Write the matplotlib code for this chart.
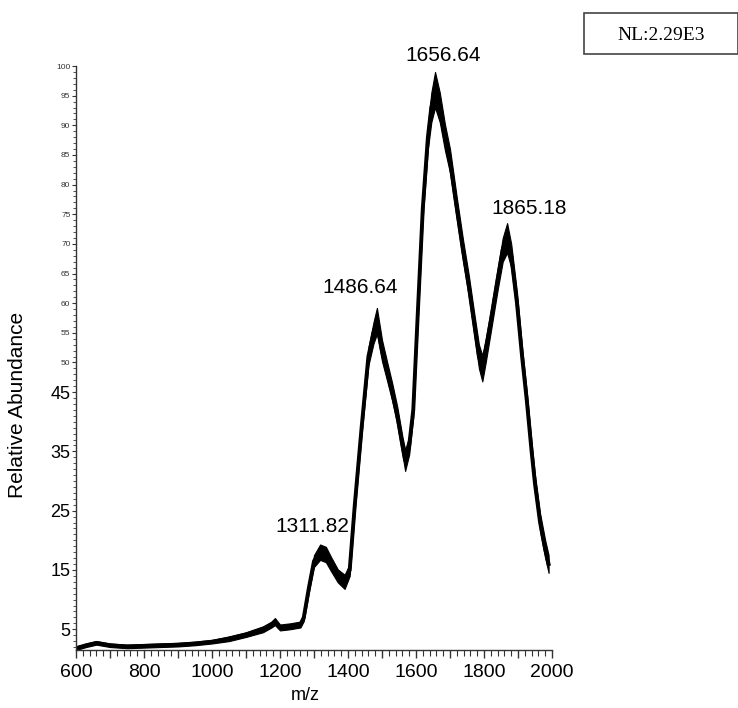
import matplotlib
matplotlib.use("Agg")
import matplotlib.pyplot as plt
from matplotlib.ticker import MultipleLocator, FixedLocator
from matplotlib.patches import Rectangle

plt.rcParams['font.family'] = ['Liberation Sans', 'DejaVu Sans']

# m/z positions and relative abundance (trace centre), with noise half-width
mz = [600, 630, 660, 700, 750, 800, 850, 900, 950, 1000, 1050, 1100, 1150, 1175,
      1185, 1200, 1230, 1260, 1270, 1285, 1300, 1318, 1335, 1350, 1370, 1390,
      1405, 1420, 1440, 1460, 1475, 1485, 1500, 1515, 1530, 1545, 1560, 1568,
      1580, 1592, 1605, 1620, 1635, 1645, 1656, 1670, 1685, 1700, 1720, 1738,
      1755, 1770, 1785, 1795, 1805, 1820, 1840, 1855, 1868, 1880, 1897, 1912,
      1926, 1940, 1950, 1965, 1980, 1990]
abundance = [1.8, 2.3, 2.7, 2.3, 2.1, 2.2, 2.3, 2.4, 2.6, 2.9, 3.4, 4.1, 5.0, 5.8,
             6.3, 5.3, 5.5, 5.8, 7.0, 12.0, 16.5, 18.0, 17.6, 16.0, 14.0, 13.0,
             15.0, 26.0, 39.0, 51.0, 55.0, 57.0, 52.0, 48.5, 45.0, 41.0, 36.0, 33.5,
             36.0, 42.0, 58.0, 76.0, 88.0, 93.0, 96.0, 93.0, 88.0, 84.0, 76.0, 69.0,
             63.0, 57.0, 51.0, 49.0, 52.0, 57.0, 64.0, 69.0, 71.0, 68.0, 60.0, 51.0,
             43.5, 35.0, 29.5, 23.0, 18.5, 16.0]
noise = [0.3, 0.3, 0.3, 0.3, 0.3, 0.3, 0.3, 0.3, 0.3, 0.3, 0.4, 0.4, 0.5, 0.5,
         0.6, 0.5, 0.5, 0.5, 0.6, 0.8, 1.0, 1.3, 1.3, 1.2, 1.1, 1.2,
         1.0, 1.0, 1.2, 1.5, 1.8, 2.2, 1.8, 1.6, 1.5, 1.5, 1.5, 1.8,
         1.5, 1.2, 1.2, 1.5, 2.0, 2.5, 3.0, 2.5, 2.2, 2.0, 1.8, 1.8,
         1.8, 1.8, 2.0, 2.2, 2.0, 1.8, 1.8, 2.0, 2.5, 2.0, 1.8, 1.6,
         1.5, 1.5, 1.5, 1.5, 1.5, 1.5]

peak_labels = ["1311.82", "1486.64", "1656.64", "1865.18"]
peak_label_mz = [1294, 1435, 1680, 1933]
peak_label_y = [22.3, 62.7, 101.8, 76.0]

nl_text = "NL:2.29E3"
x_label = "m/z"
y_label = "Relative Abundance"
y_big_ticks = [5, 15, 25, 35, 45]
y_small_ticks = [50, 55, 60, 65, 70, 75, 80, 85, 90, 95, 100]
x_ticks = [600, 800, 1000, 1200, 1400, 1600, 1800, 2000]

W, H = 738, 708
fig = plt.figure(figsize=(W / 100, H / 100), dpi=100)
ax = fig.add_axes([76 / W, 1 - 650 / H, (552 - 76) / W, (650 - 66) / H])

lo = [a - n for a, n in zip(abundance, noise)]
hi = [a + n for a, n in zip(abundance, noise)]
ax.fill_between(mz, lo, hi, color='black', lw=0.8, edgecolor='black')
ax.plot(mz, abundance, color='black', lw=2.8, solid_joinstyle='round')

ax.set_xlim(600, 2000)
ax.set_ylim(1.5, 100)

for s in ['top', 'right']:
    ax.spines[s].set_visible(False)
for s in ['left', 'bottom']:
    ax.spines[s].set_linewidth(1.0)
    ax.spines[s].set_color('#333333')

# major ticks every 100 (labels every 200), minor every 20
ax.set_xticks(list(range(600, 2001, 100)))
ax.set_xticklabels([str(v) if v in x_ticks else '' for v in range(600, 2001, 100)])
ax.xaxis.set_minor_locator(MultipleLocator(20))
ax.tick_params(axis='x', which='major', direction='out', length=6, width=1,
               labelsize=14, pad=4, color='#333333')
ax.tick_params(axis='x', which='minor', direction='out', length=4, width=0.8,
               color='#333333')

yt = y_big_ticks + y_small_ticks
ax.set_yticks(yt)
ax.set_yticklabels([str(v) for v in yt])
for lab, v in zip(ax.get_yticklabels(), yt):
    if v in y_big_ticks:
        lab.set_fontsize(13)
    else:
        lab.set_fontsize(6)
        lab.set_color('#333333')
ax.yaxis.set_minor_locator(MultipleLocator(1))
ax.tick_params(axis='y', which='major', direction='out', length=3, width=0.8,
               pad=1, color='#333333')
ax.tick_params(axis='y', which='minor', direction='out', length=2, width=0.6,
               color='#333333')

for t, x, y in zip(peak_labels, peak_label_mz, peak_label_y):
    ax.text(x, y, t, ha='center', va='center', fontsize=15, clip_on=False)

fig.text(18 / W, 1 - 405 / H, y_label, rotation=90, ha='center', va='center',
         fontsize=15)
fig.text(305 / W, 1 - 695 / H, x_label, ha='center', va='center', fontsize=13)

fig.patches.append(Rectangle((584 / W, 1 - 54 / H), (W - 584) / W, 41 / H,
                             transform=fig.transFigure, fill=False,
                             edgecolor='#444444', lw=1.2))
fig.text(661 / W, 1 - 36 / H, nl_text, ha='center', va='center', fontsize=14,
         family=['Liberation Serif', 'DejaVu Serif'])

fig.savefig('out.png', dpi=100, facecolor='white')
